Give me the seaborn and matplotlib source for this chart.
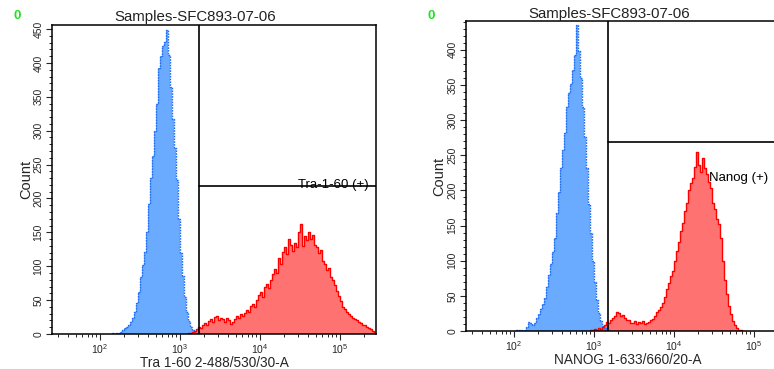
import matplotlib.pyplot as plt
import matplotlib.ticker as ticker
import numpy as np
import pandas as pd
import seaborn as sns

# Bin counts (log10 channel, 0.025 decade bins)
BIN_W = 0.025
tra_neg_range = (2.15, 3.25)
tra_neg_counts = [1, 0, 2, 1, 3, 6, 9, 11, 14, 18, 24, 33, 46, 62, 84, 102, 121, 150, 192, 230,
                  262, 300, 340, 392, 410, 425, 431, 448, 412, 365, 318, 275, 228, 170, 120, 85,
                  54, 33, 19, 10, 6, 3, 2, 1]
tra_pos_range = (3.10, 5.45)
tra_pos_counts = [1, 2, 3, 5, 8, 11, 9, 14, 16, 13, 19, 22, 18, 25, 26, 20, 24, 22, 17, 23,
                  20, 15, 18, 22, 27, 24, 30, 27, 31, 36, 33, 42, 44, 40, 50, 58, 62, 55, 70, 74,
                  68, 79, 88, 96, 90, 112, 104, 121, 128, 118, 140, 131, 122, 134, 128, 150, 163, 130, 145, 138,
                  151, 140, 146, 131, 128, 120, 124, 108, 104, 95, 98, 84, 80, 72, 63, 56, 48, 40, 37, 32,
                  29, 27, 24, 22, 20, 17, 16, 13, 14, 11, 9, 8, 4, 2]
nanog_neg_range = (2.00, 3.20)
nanog_neg_counts = [0, 1, 2, 1, 0, 2, 6, 13, 11, 8, 12, 19, 24, 31, 38, 47, 62, 80, 96, 112,
                    132, 168, 198, 232, 258, 282, 318, 338, 352, 372, 392, 436, 398, 360, 318, 276, 232, 180, 140, 100,
                    70, 44, 26, 14, 7, 4, 2, 1]
nanog_pos_range = (2.95, 4.90)
nanog_pos_counts = [1, 2, 3, 2, 4, 3, 5, 8, 13, 12, 16, 19, 22, 27, 25, 22, 23, 18, 16, 15,
                    12, 11, 14, 10, 13, 12, 14, 10, 11, 13, 15, 17, 22, 27, 30, 34, 40, 48, 60, 68,
                    78, 86, 100, 114, 126, 142, 154, 170, 182, 200, 210, 218, 234, 255, 236, 226, 246, 232, 224, 212,
                    203, 182, 174, 160, 152, 132, 100, 72, 52, 36, 24, 14, 8, 4, 2, 1, 0, 0]

panels = [
    dict(neg=(tra_neg_range, tra_neg_counts), pos=(tra_pos_range, tra_pos_counts),
         xlabel="Tra 1-60 2-488/530/30-A", gate_x=3.2375, gate_y=218, ymax=456,
         yticks=np.arange(0, 451, 50), label="Tra-1-60 (+)", label_pos=(5.36, 215, "right", "baseline"),
         rect=[52 / 774, 35 / 369, 324 / 774, 309 / 369], green_x=14, ylab_x=-0.059, title_gap=1.5),
    dict(neg=(nanog_neg_range, nanog_neg_counts), pos=(nanog_pos_range, nanog_pos_counts),
         xlabel="NANOG 1-633/660/20-A", gate_x=3.175, gate_y=269, ymax=441,
         yticks=np.arange(0, 401, 50), label="Nanog (+)", label_pos=(4.44, 218, "left", "center"),
         rect=[466 / 774, 38 / 369, 324 / 774, 310 / 369], green_x=428, ylab_x=-0.062, title_gap=0.0),
]

BLUE_FILL = "#6aaaff"
BLUE_EDGE = "#1f6cf5"
RED_FILL = "#ff3030"
RED_EDGE = "#ff0000"


def draw_hist(ax, rng, counts, fill, edge, alpha, ls):
  centers = rng[0] + BIN_W * (np.arange(len(counts)) + 0.5)
  df = pd.DataFrame({"channel": centers, "count": counts})
  sns.histplot(data=df, x="channel", weights="count", binwidth=BIN_W, binrange=rng,
               element="step", fill=True, color=fill, alpha=alpha, linewidth=0, ax=ax)
  sns.histplot(data=df, x="channel", weights="count", binwidth=BIN_W, binrange=rng,
               element="step", fill=False, color=edge, linewidth=1.0, linestyle=ls, ax=ax)


sns.set_style("ticks")
plt.rcParams["font.family"] = ["Liberation Sans", "DejaVu Sans"]
plt.rcParams["mathtext.fontset"] = "custom"
plt.rcParams["mathtext.rm"] = "Liberation Sans"
plt.rcParams["mathtext.it"] = "Liberation Sans"

fig = plt.figure(figsize=(7.74, 3.69), dpi=100)

for p in panels:
  ax = fig.add_axes(p["rect"])
  draw_hist(ax, p["neg"][0], p["neg"][1], BLUE_FILL, BLUE_EDGE, 1.0, (0, (1.2, 0.8)))
  draw_hist(ax, p["pos"][0], p["pos"][1], RED_FILL, RED_EDGE, 0.68, "-")

  ax.set_xlim(1.4, 5.45)
  ax.set_ylim(0, p["ymax"])

  # Gates
  ax.axvline(p["gate_x"], color="black", lw=1.2)
  ax.plot([p["gate_x"], 5.45], [p["gate_y"], p["gate_y"]], color="black", lw=1.2)
  lx, ly, ha, va = p["label_pos"]
  ax.text(lx, ly, p["label"], ha=ha, va=va, fontsize=9.5, color="black")

  # Log-like x axis
  ax.set_xticks([2, 3, 4, 5])
  ax.set_xticklabels([r"$10^{2}$", r"$10^{3}$", r"$10^{4}$", r"$10^{5}$"])
  minor = [np.log10(k * 10.0 ** n) for n in range(1, 6) for k in range(2, 10)]
  ax.set_xticks([m for m in minor if 1.4 <= m <= 5.45], minor=True)
  ax.set_yticks(p["yticks"])
  ax.yaxis.set_minor_locator(ticker.MultipleLocator(10))
  ax.tick_params(axis="both", which="major", length=4, width=0.8, labelsize=7.5, pad=2)
  ax.tick_params(axis="both", which="minor", length=2.5, width=0.7)
  ax.tick_params(axis="y", labelrotation=90)
  for lab in ax.get_yticklabels():
    lab.set_va("center")

  ax.set_xlabel(p["xlabel"], fontsize=9.8, labelpad=0)
  ax.set_ylabel("Count", fontsize=10.5)
  ax.yaxis.set_label_coords(p["ylab_x"], 0.5)
  for s in ax.spines.values():
    s.set_linewidth(1.1)
    s.set_color("black")

  ax.text(0.443, 1 + p["title_gap"] / (p["rect"][3] * 369), "Samples-SFC893-07-06",
          transform=ax.transAxes, ha="center", va="bottom", fontsize=10.8, color="#222222")
  fig.text(p["green_x"] / 774, 1 - 16 / 369, "0", color="#22e022", fontsize=9.5,
           fontweight="bold", ha="left", va="center")

plt.savefig("out.png", dpi=100)
plt.close()
